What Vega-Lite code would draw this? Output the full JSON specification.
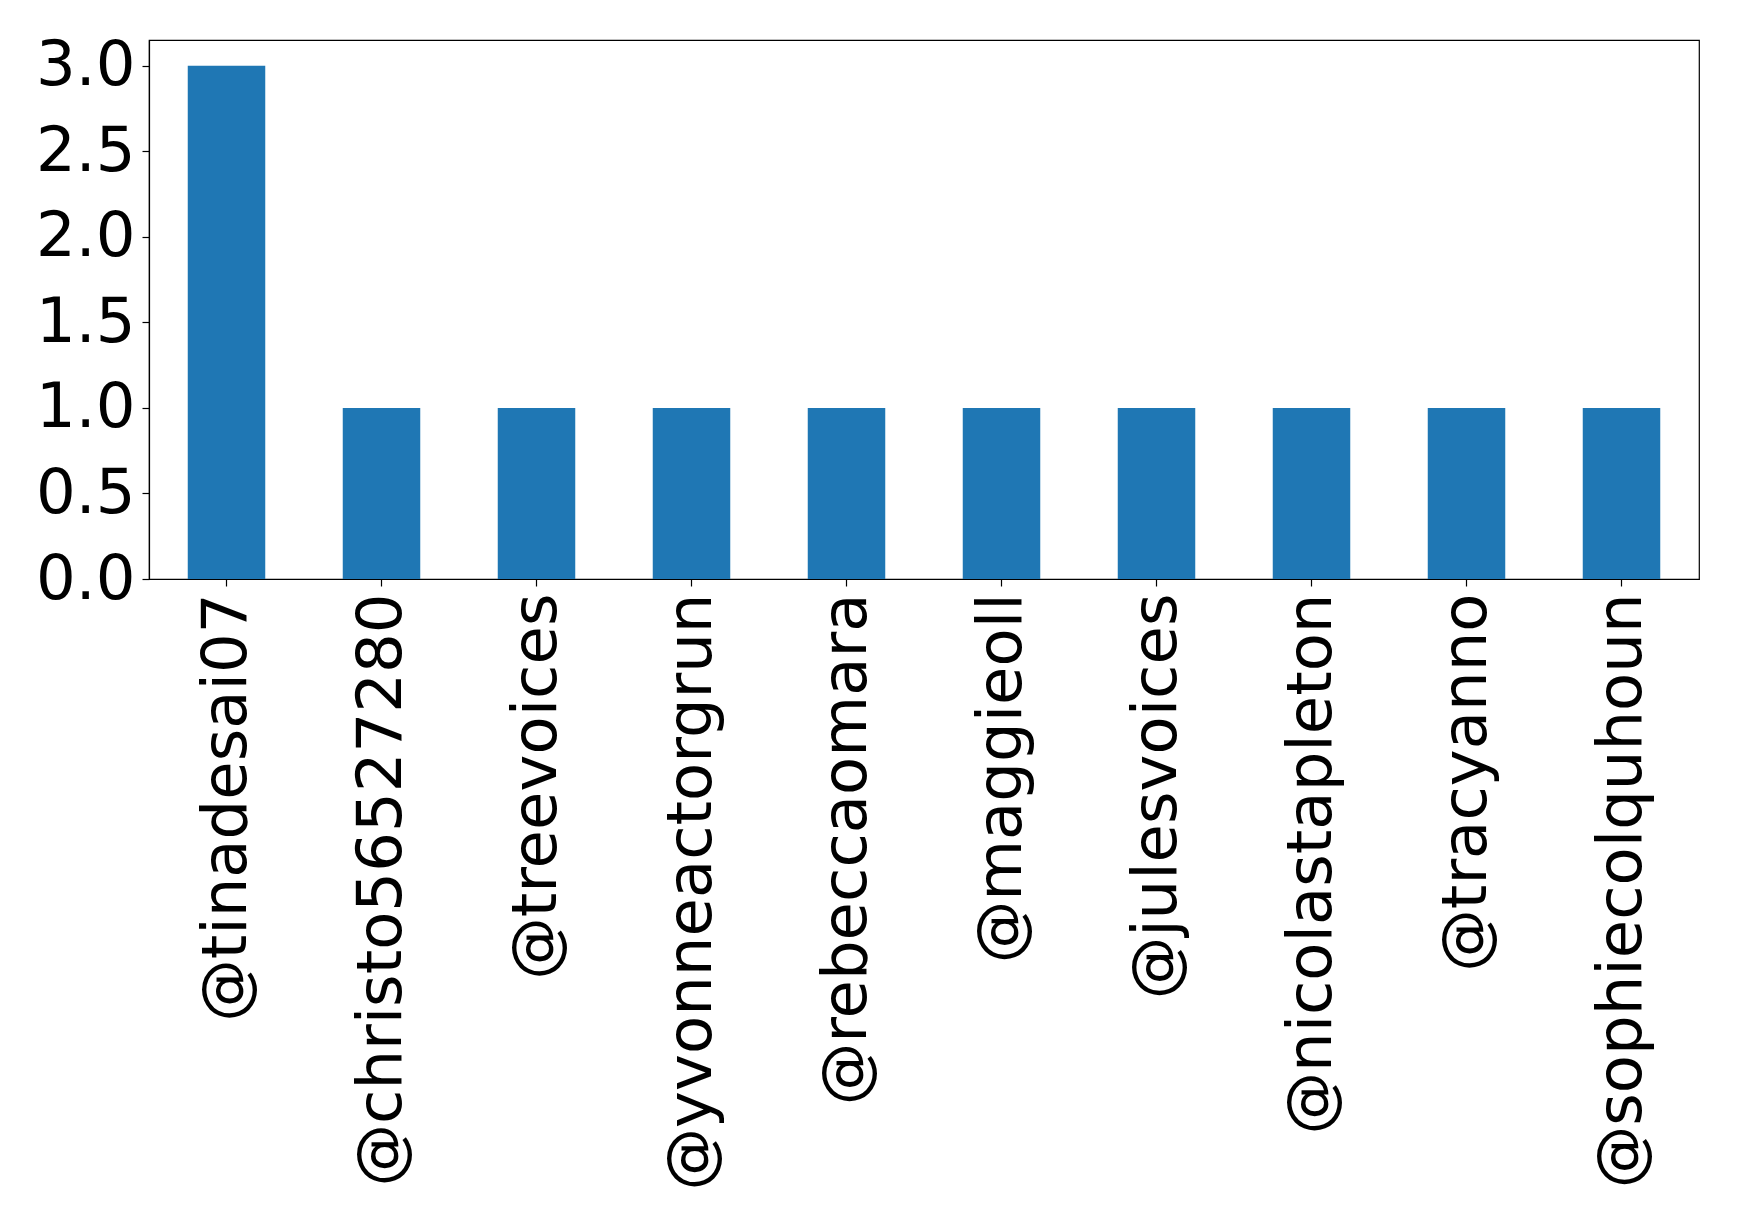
{
  "$schema": "https://vega.github.io/schema/vega-lite/v6.json",
  "width": 1550,
  "height": 539,
  "autosize": {"type": "none"},
  "padding": {"left": 149, "top": 40, "right": 40, "bottom": 646},
  "background": "white",
  "config": {
    "view": {"stroke": "black", "strokeWidth": 1.2},
    "font": "DejaVu Sans",
    "axis": {
      "grid": false,
      "domainColor": "black",
      "domainWidth": 1.2,
      "tickColor": "black",
      "tickWidth": 1.2,
      "tickSize": 7,
      "labelPadding": 7,
      "labelFont": "DejaVu Sans",
      "labelFontSize": 62.5,
      "labelColor": "black",
      "labelLimit": 1000,
      "labelOverlap": false,
      "labelFlush": false,
      "title": null
    }
  },
  "data": {
    "values": [
      {"user": "@tinadesai07", "count": 3},
      {"user": "@christo56527280", "count": 1},
      {"user": "@treevoices", "count": 1},
      {"user": "@yvonneactorgrun", "count": 1},
      {"user": "@rebeccaomara", "count": 1},
      {"user": "@maggieoll", "count": 1},
      {"user": "@julesvoices", "count": 1},
      {"user": "@nicolastapleton", "count": 1},
      {"user": "@tracyanno", "count": 1},
      {"user": "@sophiecolquhoun", "count": 1}
    ]
  },
  "mark": {"type": "bar", "color": "#1f77b4"},
  "encoding": {
    "x": {
      "field": "user",
      "type": "nominal",
      "sort": null,
      "scale": {"paddingInner": 0.5, "paddingOuter": 0.25},
      "axis": {"labelAngle": 270}
    },
    "y": {
      "field": "count",
      "type": "quantitative",
      "scale": {"domain": [0, 3.15], "nice": false},
      "axis": {"values": [0, 0.5, 1, 1.5, 2, 2.5, 3], "format": ".1f"}
    }
  }
}
